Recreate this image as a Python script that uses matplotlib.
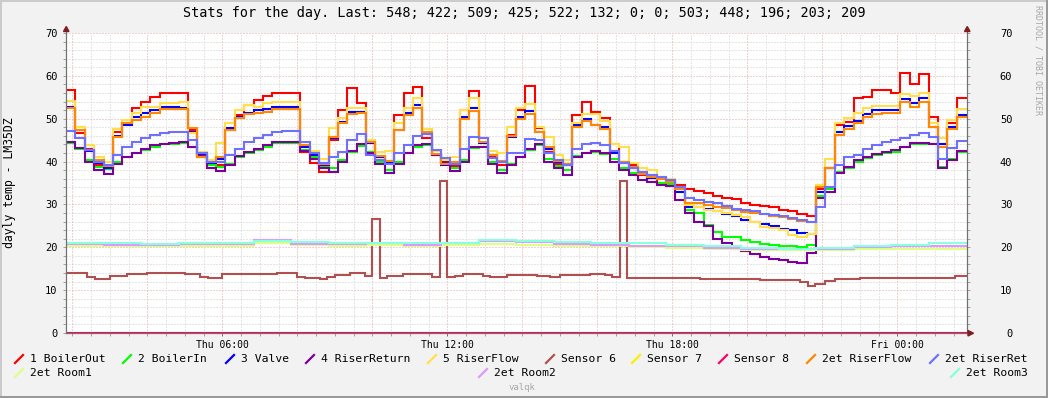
import numpy as np
import matplotlib
matplotlib.use("Agg")
import matplotlib.pyplot as plt
from matplotlib.lines import Line2D
from matplotlib.patches import Polygon, Rectangle
from matplotlib.ticker import MultipleLocator, FixedLocator

plt.rcParams["font.family"] = "DejaVu Sans Mono"

W, H = 1048, 398

# ---------------------------------------------------------------- data
title = "Stats for the day. Last: 548; 422; 509; 425; 522; 132; 0; 0; 503; 448; 196; 203; 209"
y_label = "dayly temp - LM35DZ"
x_tick_hours = [6, 12, 18, 24]
x_tick_labels = ["Thu 06:00", "Thu 12:00", "Thu 18:00", "Fri 00:00"]

start_hour = 1 + 50 / 60      # Thu 01:50, first sample
step_hours = 0.25             # 15 min samples for the heating sensors

boiler_out = [
    56.7, 46.6, 43.0, 39.2, 38.2, 47.0, 48.9, 52.4, 54.0, 55.0, 56.1, 56.1,
    56.1, 47.4, 41.1, 39.2, 39.2, 47.4, 50.9, 53.2, 54.4, 55.3, 56.1, 56.1,
    55.9, 42.3, 39.6, 37.6, 45.0, 52.0, 57.2, 53.6, 44.6, 41.1, 40.0, 50.9,
    55.9, 57.5, 45.5, 41.5, 39.6, 39.0, 52.0, 56.5, 45.4, 41.0, 39.2, 46.2,
    52.0, 57.7, 47.8, 42.3, 39.4, 39.2, 50.9, 54.0, 51.6, 50.1, 44.0, 40.0,
    39.2, 36.8, 36.2, 35.1, 35.1, 34.5, 33.5, 33.2, 32.6, 32.0, 31.4, 31.2,
    30.4, 29.9, 29.7, 29.5, 28.7, 28.5, 27.8, 27.3, 33.5, 38.5, 48.5, 49.3,
    54.8, 55.1, 56.7, 56.8, 56.0, 60.6, 58.1, 60.4, 50.5, 43.5, 49.0, 54.8,
]
boiler_in = [
    44.3, 43.0, 40.4, 38.8, 38.2, 39.8, 41.0, 42.0, 42.8, 43.5, 44.0, 44.2,
    44.3, 43.3, 41.5, 39.3, 38.8, 39.5, 41.0, 42.0, 42.8, 43.5, 44.3, 44.3,
    44.3, 42.8, 41.0, 39.0, 38.5, 40.3, 42.3, 43.6, 42.2, 40.0, 38.0, 40.0,
    42.0, 43.5, 43.8, 41.8, 40.3, 38.5, 40.3, 43.2, 43.3, 40.0, 38.0, 39.5,
    41.0, 42.8, 43.8, 40.5, 39.0, 38.0, 41.2, 42.0, 42.2, 41.8, 40.5, 38.5,
    37.3, 35.8, 35.3, 35.0, 34.7, 33.0, 28.7, 28.0, 25.2, 23.6, 22.5, 22.3,
    21.7, 21.2, 20.8, 20.5, 20.4, 20.2, 20.0, 20.5, 32.0, 33.5, 37.6, 38.5,
    40.0, 40.9, 41.5, 42.0, 42.3, 43.3, 44.2, 44.2, 44.0, 38.8, 40.6, 42.2,
]
valve = [
    52.8, 47.4, 42.5, 39.6, 38.5, 46.0, 48.5, 50.5, 51.3, 52.0, 52.8, 52.8,
    52.6, 47.0, 41.5, 39.6, 40.5, 47.8, 50.5, 51.3, 52.0, 52.2, 52.8, 52.8,
    52.7, 43.5, 41.5, 39.2, 45.5, 49.3, 51.5, 51.5, 44.3, 41.0, 40.0, 47.4,
    51.3, 53.2, 46.5, 41.5, 39.2, 39.5, 50.5, 52.4, 44.3, 41.5, 40.0, 45.8,
    50.5, 51.7, 47.0, 43.0, 40.0, 39.2, 48.5, 49.9, 48.5, 48.0, 42.0, 39.6,
    38.4, 37.2, 36.2, 36.1, 35.5, 33.0, 29.5, 29.3, 28.9, 28.5, 27.8, 27.3,
    26.4, 25.9, 25.5, 25.0, 24.3, 24.0, 23.3, 23.2, 33.0, 38.5, 47.0, 48.3,
    49.5, 51.0, 52.0, 52.0, 52.0, 54.7, 53.7, 54.9, 48.0, 44.1, 48.1, 50.9,
]
riser_return = [
    44.6, 43.1, 40.0, 38.0, 37.0, 39.5, 41.0, 42.1, 43.0, 43.8, 44.2, 44.4,
    44.6, 43.5, 41.3, 38.5, 37.8, 39.3, 41.2, 42.2, 43.0, 43.8, 44.6, 44.6,
    44.6, 42.5, 40.6, 38.5, 37.5, 40.0, 42.5, 44.0, 42.0, 39.5, 37.3, 39.5,
    42.0, 43.8, 44.2, 41.5, 40.0, 37.8, 40.0, 43.5, 43.5, 39.5, 37.3, 39.3,
    41.1, 43.0, 44.0, 40.0, 38.4, 36.9, 41.0, 42.0, 42.5, 42.0, 40.0, 38.0,
    36.9, 35.7, 35.2, 34.5, 34.2, 31.0, 28.0, 26.0, 25.0, 22.0, 20.9, 19.5,
    19.2, 18.5, 17.8, 17.3, 17.0, 16.6, 16.3, 18.7, 31.5, 33.0, 37.3, 38.8,
    40.4, 41.1, 41.8, 42.3, 42.6, 43.5, 44.4, 44.4, 44.0, 38.5, 40.4, 42.5,
]
riser_flow = [
    54.2, 48.1, 43.9, 41.1, 40.0, 47.5, 49.7, 51.3, 52.8, 52.8, 53.6, 53.6,
    54.0, 46.6, 42.3, 40.4, 44.3, 48.9, 52.0, 53.2, 52.8, 53.6, 54.0, 54.0,
    54.0, 44.5, 42.5, 40.5, 47.8, 50.1, 52.5, 52.4, 45.0, 42.3, 42.5, 48.9,
    52.4, 54.8, 47.5, 42.5, 40.4, 41.0, 52.0, 54.8, 45.4, 42.5, 42.0, 48.0,
    52.4, 53.5, 48.0, 45.8, 41.5, 40.4, 49.0, 51.0, 51.0, 49.5, 44.0, 43.5,
    39.6, 38.4, 38.0, 36.5, 36.0, 34.0, 29.8, 29.5, 28.8, 28.5, 27.9, 27.5,
    27.1, 26.0, 24.8, 24.6, 24.0, 22.9, 22.3, 23.0, 34.5, 40.5, 48.9, 50.1,
    51.3, 52.4, 53.0, 53.0, 53.0, 55.8, 55.2, 56.1, 49.0, 45.4, 49.7, 52.2,
]
riser_flow_2et = [
    52.4, 47.4, 42.7, 40.4, 39.0, 45.8, 48.9, 49.7, 50.5, 51.3, 52.2, 52.2,
    52.2, 47.8, 41.1, 40.0, 41.0, 47.4, 50.1, 51.0, 51.3, 51.6, 52.2, 52.2,
    52.2, 43.9, 41.9, 39.5, 45.8, 49.0, 51.0, 51.3, 44.6, 41.3, 40.2, 47.4,
    50.8, 52.6, 46.8, 41.7, 39.4, 39.8, 49.9, 51.8, 44.6, 41.6, 40.2, 46.0,
    50.0, 51.2, 47.0, 43.5, 40.2, 39.5, 48.0, 49.5, 48.5, 47.5, 42.5, 40.0,
    38.8, 37.0, 36.3, 36.0, 35.3, 33.5, 30.4, 30.3, 29.8, 29.5, 29.1, 28.7,
    28.2, 27.9, 27.7, 27.3, 27.0, 26.6, 26.1, 25.8, 34.0, 38.5, 46.2, 47.5,
    48.9, 50.5, 51.0, 51.3, 51.3, 54.0, 52.8, 54.0, 48.0, 43.3, 47.5, 50.3,
]
riser_ret_2et = [
    47.2, 45.4, 42.7, 40.0, 39.2, 41.5, 43.5, 44.5, 45.4, 46.2, 46.6, 47.0,
    47.0, 45.0, 41.9, 40.0, 40.0, 41.5, 43.0, 44.6, 45.4, 46.2, 47.0, 47.2,
    47.1, 44.5, 42.0, 39.6, 41.0, 42.3, 45.0, 46.4, 41.5, 40.4, 39.4, 41.9,
    43.9, 46.0, 46.4, 42.7, 40.8, 39.5, 43.0, 45.8, 45.4, 40.8, 40.0, 41.9,
    42.0, 45.2, 45.0, 41.9, 40.4, 39.2, 43.0, 44.0, 44.3, 43.8, 42.5, 39.6,
    38.4, 37.5, 36.9, 36.5, 35.8, 34.0, 31.6, 31.0, 30.5, 30.3, 29.6, 28.9,
    28.7, 28.5, 27.8, 27.6, 27.3, 26.8, 26.3, 26.0, 29.5, 34.0, 39.2, 41.1,
    41.5, 43.0, 43.9, 44.6, 45.0, 45.5, 46.2, 46.7, 45.8, 40.7, 43.1, 44.8,
]

# rooms, hourly from 01:50
room1 = [20.4, 20.3, 20.2, 20.3, 20.4, 21.0, 20.5, 20.3, 20.5, 20.3, 20.5, 20.8,
         20.6, 20.4, 20.3, 20.1, 19.9, 19.6, 19.4, 19.3, 19.4, 19.6, 19.6, 19.6]
room2 = [20.7, 20.6, 20.5, 20.8, 20.7, 21.6, 20.8, 20.7, 20.9, 20.6, 20.9, 21.4,
         21.2, 20.8, 20.6, 20.4, 20.2, 19.8, 19.6, 19.5, 19.7, 20.0, 20.2, 20.3]
room3 = [21.1, 21.0, 20.8, 21.1, 21.1, 21.5, 21.3, 20.9, 20.9, 20.9, 21.0, 21.6,
         21.4, 21.2, 21.0, 20.9, 20.6, 20.2, 19.9, 19.7, 19.8, 20.2, 20.5, 20.9]
sensor7 = [0.0] * 24
sensor8 = [0.0] * 24

# sensor 6 changes (hour of day, value)
sensor6_hours = [1.83, 2.13, 2.40, 2.60, 3.00, 3.45, 4.00, 5.00, 5.40, 5.62, 6.00,
                 7.47, 8.00, 8.21, 8.61, 8.80, 9.00, 9.40, 9.80, 9.99, 10.20,
                 10.40, 10.83, 11.60, 11.81, 12.00, 12.20, 12.41, 12.95, 13.13,
                 13.59, 14.39, 14.73, 15.00, 15.80, 16.20, 16.39, 16.60, 16.79,
                 18.75, 20.35, 21.41, 21.63, 21.81, 22.08, 22.35, 23.01, 25.55]
sensor6_vals = [14.1, 13.9, 13.1, 12.7, 13.3, 13.7, 14.1, 13.8, 13.1, 12.8, 13.8,
                14.1, 13.1, 12.8, 12.6, 13.0, 13.6, 13.9, 13.3, 26.6, 12.9,
                13.3, 13.8, 13.1, 35.5, 13.1, 13.3, 13.8, 13.3, 13.1,
                13.6, 13.3, 13.1, 13.6, 13.8, 13.5, 13.1, 35.5, 12.8,
                12.5, 12.3, 11.9, 11.0, 11.5, 12.2, 12.5, 12.8, 13.2]

labels = ["1 BoilerOut", "2 BoilerIn", "3 Valve", "4 RiserReturn", "5 RiserFlow",
          "Sensor 6", "Sensor 7", "Sensor 8", "2et RiserFlow", "2et RiserRet",
          "2et Room1", "2et Room2", "2et Room3"]
colors = ["#ff0000", "#00ff00", "#0000ff", "#7a0099", "#ffe04a",
          "#b05050", "#ffee00", "#ff0066", "#ff8800", "#7070ff",
          "#ddff88", "#dd99ff", "#88ffdd"]

# ---------------------------------------------------------------- layout
fig = plt.figure(figsize=(W / 100, H / 100), dpi=100, facecolor="#f2f2f2")
x0_px, x1_px, y_top_px, y_bot_px = 66, 967, 33, 333
ax = fig.add_axes([x0_px / W, 1 - y_bot_px / H, (x1_px - x0_px) / W, (y_bot_px - y_top_px) / H])
ax.set_facecolor("white")
x_end = start_hour + (x1_px - x0_px) / 37.5
ax.set_xlim(start_hour, x_end)
ax.set_ylim(0, 70)

# grid: minor every 2 / 30 min, major every 10 / 2 h
dot = (0, (1, 2))
for v in np.arange(2, 70.1, 2):
    major = v % 10 == 0
    ax.axhline(v, color="#e8a0a0" if major else "#cccccc", lw=0.72, ls=dot, zorder=0)
for h in np.arange(2, x_end, 0.5):
    major = h % 2 == 0
    ax.axvline(h, color="#e8a0a0" if major else "#cccccc", lw=0.72, ls=dot, zorder=0)


def steps(x_edges, vals, color, clip=True):
    y = np.append(vals, vals[-1])
    ax.plot(x_edges, y, drawstyle="steps-post", color=color, lw=1.5,
            solid_joinstyle="miter", solid_capstyle="butt", clip_on=clip)


edges = start_hour + np.arange(len(boiler_out) + 1) * step_hours
edges[-1] = x_end
hour_edges = start_hour + np.arange(len(room1) + 1) * 1.0
hour_edges[-1] = x_end
s6_edges = np.append(sensor6_hours, x_end)
s6_edges[0] = start_hour

series = [(edges, boiler_out), (edges, boiler_in), (edges, valve), (edges, riser_return),
          (edges, riser_flow), (s6_edges, sensor6_vals), (hour_edges, sensor7),
          (hour_edges, sensor8), (edges, riser_flow_2et), (edges, riser_ret_2et),
          (hour_edges, room1), (hour_edges, room2), (hour_edges, room3)]
for (xe, vals), c, name in zip(series, colors, labels):
    # the zero lines sit on the x axis, don't cut them in half
    steps(xe, vals, c, clip=name not in ("Sensor 7", "Sensor 8"))

# axes, ticks
ax.spines["top"].set_visible(False)
for s in ["left", "right", "bottom"]:
    ax.spines[s].set_color("#707070")
    ax.spines[s].set_linewidth(0.8)
ax.yaxis.set_major_locator(MultipleLocator(10))
ax.yaxis.set_minor_locator(MultipleLocator(2))
ax.xaxis.set_major_locator(FixedLocator(x_tick_hours))
ax.xaxis.set_minor_locator(MultipleLocator(0.5))
ax.set_xticklabels(x_tick_labels)
ax.tick_params(axis="x", which="major", length=2, width=0.7, color="#707070", labelsize=7, pad=3)
ax.tick_params(axis="x", which="minor", length=2, width=0.7, color="#a0a0a0")
ax.tick_params(axis="y", which="both", left=True, right=True, labelleft=True, labelright=True,
               length=2, width=0.7, color="#a0a0a0", labelsize=7.5)
ax.tick_params(axis="y", which="major", pad=4)
for t in ax.yaxis.get_major_ticks():
    # right side labels are right aligned like rrdtool's
    t.label2.set_horizontalalignment("right")
    t.label2.set_x(1 + 37 / (x1_px - x0_px))

# axis arrows
arrow_c = "#7f1f1f"


def tri(pts):
    fig.patches.append(Polygon([(x / W, 1 - y / H) for x, y in pts], closed=True,
                               transform=fig.transFigure, color=arrow_c, zorder=5))


for ax_x in (x0_px, x1_px):
    fig.lines.append(Line2D([ax_x / W, ax_x / W], [1 - 333 / H, 1 - 30 / H],
                            transform=fig.transFigure, color="#707070", lw=0.8))
    tri([(ax_x - 2.5, 31.5), (ax_x + 3, 31.5), (ax_x + 0.25, 26.5)])
fig.lines.append(Line2D([x1_px / W, 969 / W], [1 - 333 / H, 1 - 333 / H],
                        transform=fig.transFigure, color="#707070", lw=0.8))
tri([(968, 330.5), (968, 336), (973.5, 333.2)])

# texts
fig.text(524 / W, 1 - 13 / H, title, ha="center", va="center", fontsize=9.75)
fig.text(10 / W, 1 - 183 / H, y_label, rotation=90, ha="center", va="center", fontsize=8.3)
fig.text(1038 / W, 1 - 60 / H, "RRDTOOL / TOBI OETIKER", rotation=270, ha="center",
         va="center", fontsize=6, color="#a8a8a8")
fig.text(522 / W, 1 - 388 / H, "valqk", ha="center", va="center", fontsize=6.5, color="#a8a8a8")

# legend, rrdtool style: slanted colour tick then name
legend_pos = [(15, 359), (123, 359), (226, 359), (306, 359), (428, 359), (546, 359),
              (632, 359), (719, 359), (807, 359), (930, 359), (15, 373), (479, 373), (951, 373)]
for (lx, ly), c, name in zip(legend_pos, colors, labels):
    fig.lines.append(Line2D([lx / W, (lx + 8) / W], [1 - (ly + 4) / H, 1 - (ly - 4) / H],
                            transform=fig.transFigure, color=c, lw=1.6))
    fig.text((lx + 15) / W, 1 - ly / H, name, ha="left", va="center", fontsize=8.2)

# 3d-ish frame
for (rx, ry, rw, rh, rc) in [(0, 0, W, 2, "#cbcbcb"), (0, 0, 2, H, "#cbcbcb"),
                             (0, H - 2, W, 2, "#999999"), (W - 2, 0, 2, H, "#999999")]:
    fig.patches.append(Rectangle((rx / W, 1 - (ry + rh) / H), rw / W, rh / H,
                                 transform=fig.transFigure, color=rc, lw=0))

fig.savefig("out.png", dpi=100, facecolor=fig.get_facecolor())
